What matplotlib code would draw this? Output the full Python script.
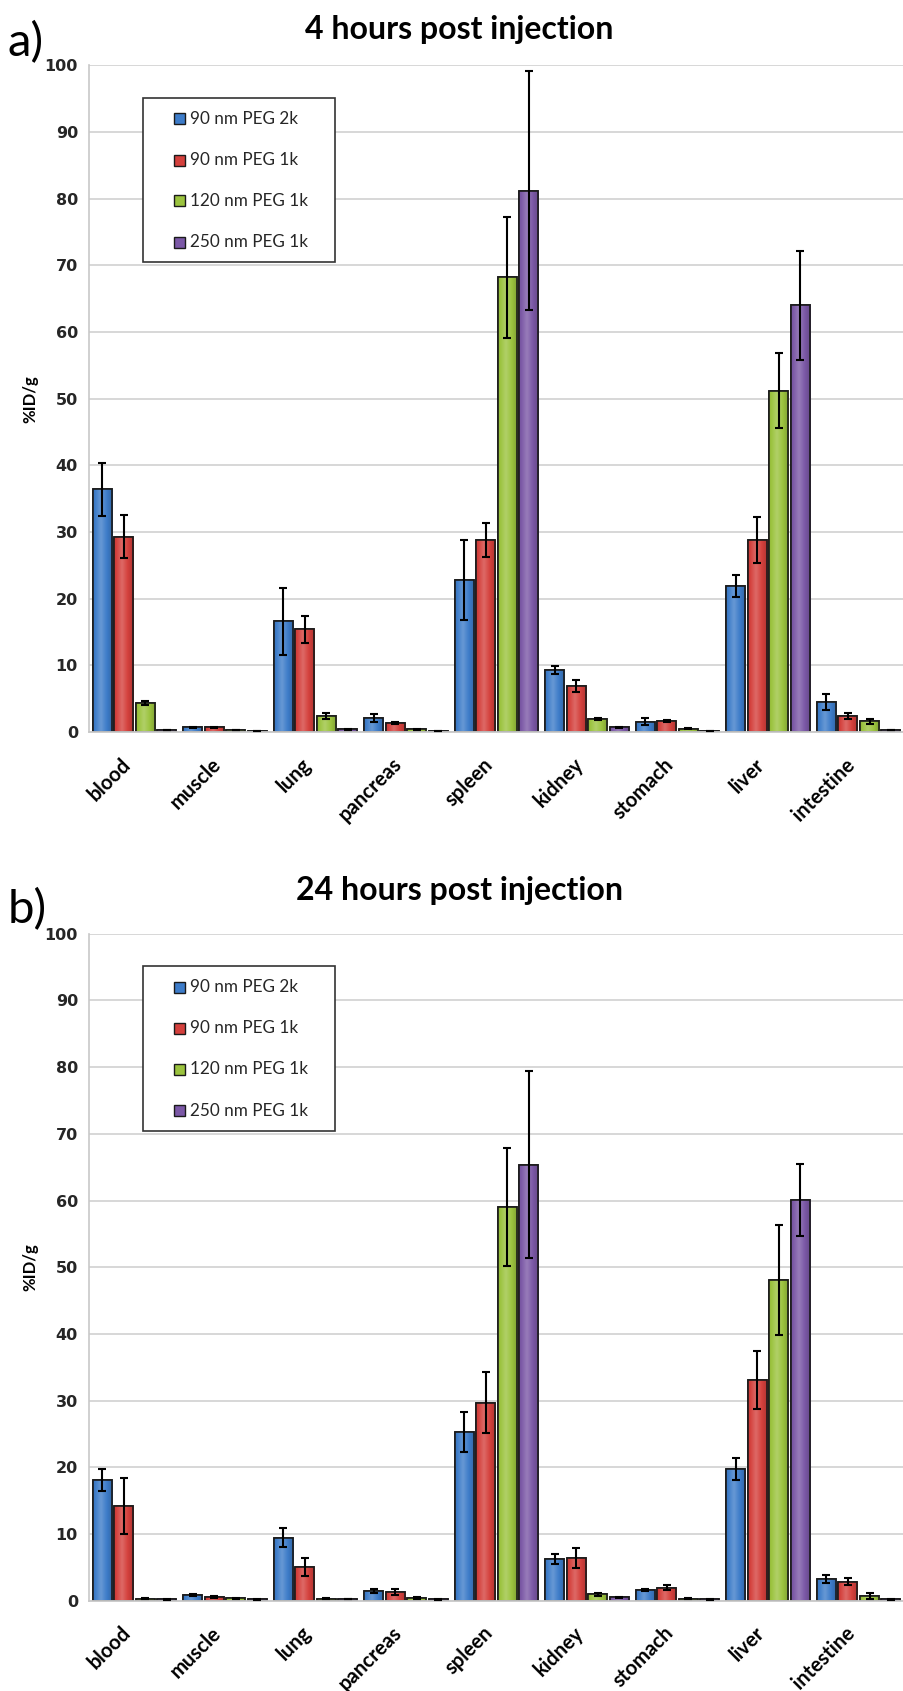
import numpy as np
import matplotlib
matplotlib.use("Agg")
import matplotlib.pyplot as plt
import matplotlib.transforms as mtransforms
from matplotlib.colors import to_rgb
from matplotlib.patches import Rectangle

plt.rcParams['font.family'] = ['Lato', 'DejaVu Sans']

organs = ["blood", "muscle", "lung", "pancreas", "spleen", "kidney", "stomach", "liver", "intestine"]
series = ["90 nm PEG 2k", "90 nm PEG 1k", "120 nm PEG 1k", "250 nm PEG 1k"]
colors = ["#3d7cc9", "#d4403c", "#9bc33e", "#7b58a6"]

# 4 hours post injection (%ID/g)
h4_90_2k = [36.4, 0.7, 16.6, 2.05, 22.8, 9.3, 1.55, 21.9, 4.5]
h4_90_2k_err = [4.0, 0.1, 5.0, 0.6, 6.0, 0.6, 0.5, 1.7, 1.2]
h4_90_1k = [29.3, 0.7, 15.4, 1.4, 28.8, 6.9, 1.65, 28.8, 2.45]
h4_90_1k_err = [3.2, 0.1, 2.0, 0.15, 2.5, 0.85, 0.2, 3.5, 0.45]
h4_120_1k = [4.4, 0.3, 2.4, 0.4, 68.2, 1.9, 0.5, 51.2, 1.6]
h4_120_1k_err = [0.3, 0.05, 0.4, 0.05, 9.1, 0.15, 0.1, 5.6, 0.4]
h4_250_1k = [0.3, 0.2, 0.4, 0.2, 81.2, 0.7, 0.2, 64.0, 0.3]
h4_250_1k_err = [0.05, 0.02, 0.05, 0.02, 17.9, 0.1, 0.02, 8.2, 0.05]

# 24 hours post injection (%ID/g)
h24_90_2k = [18.1, 0.85, 9.45, 1.5, 25.3, 6.25, 1.6, 19.75, 3.2]
h24_90_2k_err = [1.7, 0.1, 1.4, 0.3, 3.0, 0.7, 0.1, 1.6, 0.6]
h24_90_1k = [14.2, 0.55, 5.1, 1.3, 29.7, 6.45, 1.95, 33.1, 2.85]
h24_90_1k_err = [4.2, 0.1, 1.35, 0.4, 4.6, 1.5, 0.4, 4.4, 0.5]
h24_120_1k = [0.3, 0.35, 0.3, 0.4, 59.05, 0.95, 0.3, 48.1, 0.7]
h24_120_1k_err = [0.05, 0.05, 0.05, 0.1, 8.8, 0.2, 0.05, 8.3, 0.4]
h24_250_1k = [0.2, 0.2, 0.3, 0.2, 65.4, 0.5, 0.2, 60.05, 0.2]
h24_250_1k_err = [0.02, 0.02, 0.02, 0.02, 14.0, 0.1, 0.02, 5.4, 0.02]


def shade(c):
    # excel-like horizontal gradient: darker edges, lighter middle
    base = np.array(to_rgb(c))
    t = np.linspace(0, 1, 40)
    light = 1 - np.abs(t - 0.4) / 0.6
    cols = []
    for v in light:
        if v > 0.5:
            cols.append(base + (1 - base) * 0.22 * (v - 0.5) * 2)
        else:
            cols.append(base * (0.82 + 0.18 * v * 2))
    return np.clip(np.array(cols)[None, :, :], 0, 1)


def draw_panel(ax, vals, errs):
    x = np.arange(len(organs))
    offsets = [-0.356, -0.119, 0.119, 0.356]
    for i in range(4):
        bars = ax.bar(x + offsets[i], vals[i], 0.21, color=colors[i], edgecolor="#1a1a1a",
                      linewidth=1.2, zorder=2)
        grad = shade(colors[i])
        for b in bars:
            im = ax.imshow(grad, extent=(b.get_x(), b.get_x() + b.get_width(), 0, b.get_height()),
                           aspect="auto", zorder=2.1, interpolation="bicubic")
            im.set_clip_path(b)
            ax.add_patch(Rectangle((b.get_x(), 0), b.get_width(), b.get_height(), fill=False,
                                   edgecolor="#1a1a1a", linewidth=1.2, zorder=2.2))
        ax.errorbar(x + offsets[i], vals[i], yerr=errs[i], fmt="none", ecolor="black",
                    elinewidth=1.5, capsize=3, capthick=1.5, zorder=3)
    ax.set_xlim(-0.5, len(organs) - 0.5)
    ax.set_ylim(0, 100)
    ax.set_yticks(range(0, 101, 10))
    ax.set_xticks(x)
    ax.set_xticklabels(organs, rotation=45, ha="right", fontsize=14.6, fontweight="bold")
    shift = mtransforms.ScaledTranslation(0.06, 0, ax.figure.dpi_scale_trans)
    for t in ax.get_xticklabels():
        t.set_transform(t.get_transform() + shift)
    for t in ax.get_yticklabels():
        t.set_fontweight("bold")
        t.set_fontsize(11.5)
        t.set_family("DejaVu Sans")
        t.set_color("#262626")
    ax.tick_params(axis="both", length=0)
    ax.tick_params(axis="y", pad=8)
    ax.tick_params(axis="x", pad=16)
    ax.grid(axis="y", color="#d4d4d4", linewidth=1.3)
    ax.set_axisbelow(True)
    for s in ["top", "right"]:
        ax.spines[s].set_visible(False)
    ax.spines["left"].set_color("#c8c8c8")
    ax.spines["bottom"].set_color("#c8c8c8")
    ax.spines["left"].set_linewidth(1.2)
    ax.spines["bottom"].set_linewidth(1.3)
    ax.set_ylabel("%ID/g", fontsize=12, fontweight="bold")
    ax.yaxis.set_label_coords(-0.062, 0.5)

    # legend box
    ax.add_patch(Rectangle((0.0663, 0.705), 0.2355, 0.246, transform=ax.transAxes, fill=True,
                           facecolor="white", edgecolor="#333333", linewidth=1.2, zorder=5))
    ys = [0.920, 0.858, 0.797, 0.735]
    for i in range(4):
        ax.add_patch(Rectangle((0.1043, ys[i] - 0.0083), 0.0135, 0.0165, transform=ax.transAxes,
                               facecolor=colors[i], edgecolor="#1a1a1a", linewidth=1.0, zorder=6))
        ax.text(0.1239, ys[i], series[i], transform=ax.transAxes, fontsize=12.3, va="center",
                ha="left", color="#262626", zorder=6)


fig = plt.figure(figsize=(9.04, 16.91), dpi=100)
ax1 = fig.add_axes([0.0985, 0.5671, 0.9015, 0.3942])
ax2 = fig.add_axes([0.0985, 0.0534, 0.9015, 0.3944])

draw_panel(ax1, [h4_90_2k, h4_90_1k, h4_120_1k, h4_250_1k],
           [h4_90_2k_err, h4_90_1k_err, h4_120_1k_err, h4_250_1k_err])
draw_panel(ax2, [h24_90_2k, h24_90_1k, h24_120_1k, h24_250_1k],
           [h24_90_2k_err, h24_90_1k_err, h24_120_1k_err, h24_250_1k_err])

fig.text(0.508, 0.9823, "4 hours post injection", fontsize=23, fontweight="bold", ha="center", va="center")
fig.text(0.508, 0.4731, "24 hours post injection", fontsize=23, fontweight="bold", ha="center", va="center")
fig.text(0.008, 0.975, "a)", fontsize=34, ha="left", va="center")
fig.text(0.008, 0.462, "b)", fontsize=34, ha="left", va="center")

fig.savefig("out.png", dpi=100, facecolor="white")
